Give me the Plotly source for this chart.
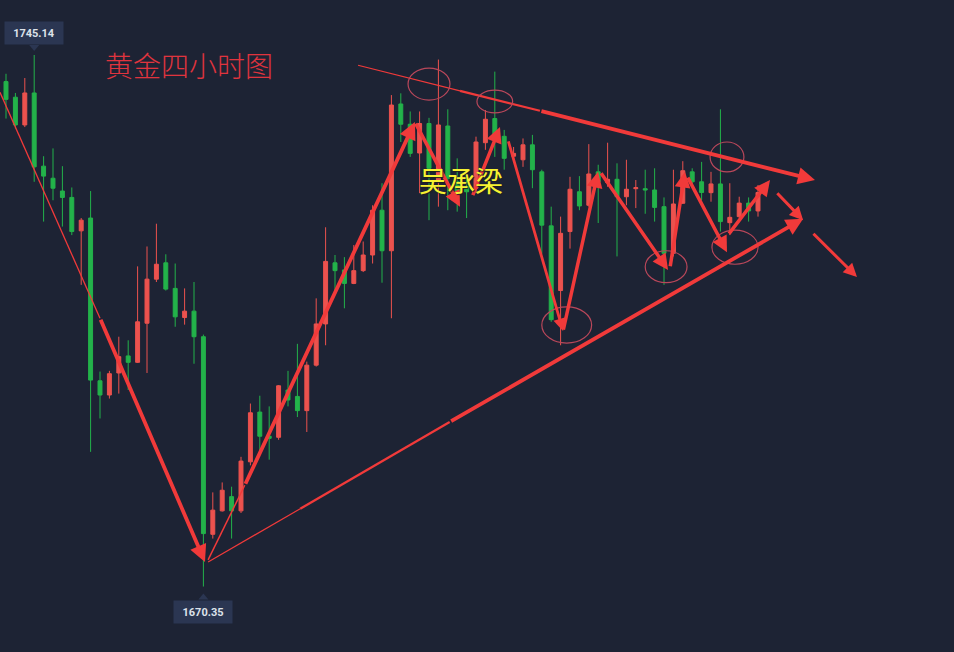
import plotly.graph_objects as go

# ---------------- data (4-hour gold candles) ----------------
bar_index = list(range(81))
open_ = [1741.4, 1739.2, 1735.3, 1739.8, 1729.5, 1727.8, 1726.0, 1725.1, 1720.4, 1722.2,
         1699.3, 1697.3, 1700.4, 1702.8, 1701.9, 1707.4, 1713.6, 1715.9, 1712.3, 1708.2,
         1709.1, 1705.5, 1677.7, 1681.0, 1683.0, 1681.0, 1687.9, 1694.9, 1691.5, 1691.35,
         1698.0, 1697.1, 1695.1, 1701.5, 1707.3, 1715.9, 1714.9, 1713.0, 1714.8, 1717.0,
         1723.3, 1717.6, 1738.25, 1735.4, 1731.35, 1735.5, 1727.55, 1735.15, 1727.3, 1726.6,
         1726.4, 1732.8, 1736.2, 1733.7, 1730.9, 1730.4, 1732.5, 1728.7, 1721.1, 1712.0,
         1720.3, 1725.9, 1724.0, 1728.7, 1727.2, 1727.65, 1725.2, 1726.33, 1726.33, 1726.15,
         1723.8, 1717.24, 1724.28, 1728.7, 1727.3, 1725.77, 1727.0, 1721.55, 1722.4, 1724.3,
         1723.2]
high = [1742.5, 1739.8, 1741.9, 1745.14, 1730.9, 1732.0, 1729.5, 1726.5, 1722.2, 1726.0,
        1700.6, 1700.7, 1705.5, 1705.0, 1715.4, 1718.2, 1721.4, 1717.1, 1715.8, 1712.3,
        1713.2, 1705.8, 1683.6, 1685.0, 1684.4, 1688.6, 1696.1, 1697.2, 1695.7, 1698.7,
        1700.7, 1704.5, 1702.0, 1710.9, 1720.9, 1717.0, 1716.7, 1718.4, 1718.9, 1724.0,
        1727.1, 1739.5, 1739.75, 1737.2, 1737.2, 1736.3, 1744.5, 1737.5, 1730.6, 1728.0,
        1733.65, 1737.4, 1742.8, 1734.6, 1732.2, 1733.4, 1733.9, 1729.0, 1723.8, 1722.4,
        1728.0, 1728.1, 1732.6, 1729.7, 1732.8, 1729.9, 1730.4, 1727.55, 1729.0, 1729.2,
        1725.1, 1729.0, 1730.2, 1729.2, 1730.1, 1728.7, 1737.5, 1727.1, 1725.2, 1725.1,
        1726.85]
low = [1736.2, 1734.8, 1735.0, 1727.3, 1721.7, 1724.7, 1721.0, 1719.8, 1712.8, 1689.3,
       1694.0, 1696.8, 1697.5, 1698.0, 1701.8, 1700.4, 1713.2, 1712.0, 1706.9, 1707.2,
       1701.7, 1670.35, 1677.1, 1680.9, 1677.1, 1680.7, 1687.4, 1688.9, 1688.2, 1691.0,
       1695.7, 1694.2, 1692.1, 1701.3, 1704.3, 1711.6, 1709.5, 1712.9, 1714.6, 1715.8,
       1713.1, 1708.1, 1732.9, 1730.8, 1725.7, 1721.9, 1723.8, 1723.3, 1723.1, 1722.2,
       1725.7, 1731.8, 1730.8, 1729.0, 1730.4, 1729.4, 1726.4, 1717.2, 1707.6, 1704.3,
       1717.9, 1723.3, 1723.8, 1721.5, 1726.6, 1716.8, 1724.0, 1723.6, 1722.8, 1721.7,
       1712.8, 1716.8, 1724.18, 1726.85, 1724.7, 1724.5, 1720.3, 1719.8, 1722.2, 1721.7,
       1722.4]
close = [1738.9, 1735.3, 1739.8, 1729.4, 1728.1, 1726.4, 1725.1, 1720.3, 1721.9, 1699.4,
         1697.3, 1700.3, 1702.7, 1701.9, 1707.6, 1713.6, 1715.7, 1712.2, 1708.3, 1709.1,
         1705.5, 1677.8, 1681.1, 1683.9, 1681.0, 1688.0, 1694.8, 1691.5, 1691.2, 1698.6,
         1696.6, 1695.1, 1701.5, 1707.3, 1716.1, 1714.8, 1713.0, 1714.8, 1717.0, 1723.3,
         1717.6, 1738.1, 1735.4, 1731.3, 1735.5, 1729.2, 1735.3, 1727.8, 1725.9, 1725.9,
         1732.9, 1736.1, 1733.65, 1730.6, 1731.3, 1732.5, 1729.0, 1721.2, 1707.9, 1720.05,
         1726.25, 1723.9, 1728.4, 1727.3, 1727.65, 1725.2, 1726.25, 1726.47, 1726.15, 1723.7,
         1717.24, 1724.18, 1728.86, 1727.3, 1725.8, 1727.0, 1721.7, 1722.3, 1724.3, 1723.2,
         1725.8]

high_label = "1745.14"
low_label = "1670.35"
title_text = "黄金四小时图"
author_text = "吴承梁"

# ---------------- hand-drawn annotation geometry (bar index, price) ----------------
plain_lines = [  # (x0, y0, x1, y1, width)
    (-0.64, 1739.9, 10.0, 1708.1, 1.3),
    (21.5, 1674.1, 25.4, 1684.6, 1.5),
    (37.45, 1743.7, 48.3, 1740.1, 1.2),
    (48.3, 1740.1, 56.8, 1737.3, 2.2),
    (21.5, 1673.8, 31.3, 1681.3, 1.2),
    (31.3, 1681.3, 47.2, 1693.5, 2.3),
]
thick_arrows = [  # (x_tail, y_tail, x_head, y_head, width)
    (10.0, 1708.1, 21.17, 1673.8, 3.8),
    (25.4, 1684.6, 43.5, 1735.7, 3.8),
    (56.8, 1737.3, 86.06, 1727.55, 3.8),
    (47.2, 1693.5, 84.8, 1722.1, 3.8),
    (43.5, 1735.7, 48.3, 1723.8, 3.5),
    (49.6, 1725.2, 52.55, 1735.0, 3.5),
    (53.4, 1733.2, 59.26, 1706.3, 2.8),
    (59.26, 1706.3, 62.98, 1728.7, 3.5),
    (63.2, 1728.7, 70.43, 1714.9, 3.5),
    (70.64, 1715.2, 72.23, 1728.7, 3.5),
    (72.45, 1728.1, 76.7, 1717.4, 3.5),
    (76.8, 1719.8, 81.28, 1727.55, 3.5),
    (81.9, 1725.9, 84.8, 1721.9, 3.0),
    (85.74, 1720.2, 90.53, 1713.9, 3.0),
]
ellipses = [  # (x0, x1, y0, y1)
    (42.77, 47.23, 1738.8, 1743.3),
    (50.1, 53.9, 1737.0, 1740.2),
    (57.0, 62.3, 1704.6, 1709.7),
    (68.0, 72.45, 1713.1, 1717.6),
    (74.9, 78.5, 1728.7, 1732.9),
    (75.1, 80.0, 1715.7, 1720.5),
]

BG = "#1d2334"
UP = "#ec524e"
DOWN = "#23b24a"
ARROW = "#f13a3a"
ELL = "#b9475a"
LABEL_BG = "#2b3652"

fig = go.Figure()
fig.add_trace(go.Candlestick(
    x=bar_index, open=open_, high=high, low=low, close=close,
    increasing=dict(line=dict(color=UP, width=1), fillcolor=UP),
    decreasing=dict(line=dict(color=DOWN, width=1), fillcolor=DOWN),
    whiskerwidth=0, showlegend=False, hoverinfo="skip",
))

shapes = []
for x0, y0, x1, y1, w in plain_lines:
    shapes.append(dict(type="line", xref="x", yref="y", x0=x0, y0=y0, x1=x1, y1=y1,
                       line=dict(color=ARROW, width=w)))
for x0, x1, y0, y1 in ellipses:
    shapes.append(dict(type="circle", xref="x", yref="y", x0=x0, x1=x1, y0=y0, y1=y1,
                       line=dict(color=ELL, width=1.2)))
# pointer triangles of the price tags
shapes.append(dict(type="path", xref="x", yref="y", xsizemode="pixel", ysizemode="pixel",
                   xanchor=3, yanchor=1745.14, path="M -5,10 L 5,10 L 0,4 Z",
                   fillcolor=LABEL_BG, line=dict(width=0)))
shapes.append(dict(type="path", xref="x", yref="y", xsizemode="pixel", ysizemode="pixel",
                   xanchor=21, yanchor=1670.35, path="M -5,-13 L 5,-13 L 0,-7 Z",
                   fillcolor=LABEL_BG, line=dict(width=0)))

annotations = []
for xt, yt, xh, yh, w in thick_arrows:
    annotations.append(dict(x=xh, y=yh, ax=xt, ay=yt, xref="x", yref="y", axref="x", ayref="y",
                            text="", showarrow=True, arrowhead=2, arrowsize=0.9,
                            arrowwidth=w, arrowcolor=ARROW, standoff=0, startstandoff=0))

tag_font = dict(family="Roboto, Arial", size=11, color="#dde2ea")
annotations.append(dict(x=3, y=1745.14, xref="x", yref="y", text="<b>" + high_label + "</b>",
                        showarrow=False, yanchor="bottom", yshift=10, bgcolor=LABEL_BG,
                        width=50, height=14, borderpad=4, font=tag_font))
annotations.append(dict(x=21, y=1670.35, xref="x", yref="y", text="<b>" + low_label + "</b>",
                        showarrow=False, yanchor="top", yshift=-13, bgcolor=LABEL_BG,
                        width=50, height=14, borderpad=4, font=tag_font))
annotations.append(dict(x=0.198, y=0.90, xref="paper", yref="paper", text=title_text,
                        showarrow=False, xanchor="center", yanchor="middle",
                        font=dict(family="Noto Sans CJK SC", size=28, color="#e0343e", weight=300)))
annotations.append(dict(x=0.483, y=0.724, xref="paper", yref="paper", text=author_text,
                        showarrow=False, xanchor="center", yanchor="middle",
                        font=dict(family="Noto Sans CJK SC", size=28, color="#f6f232",
                                  shadow="1px 1px 1px #202020")))

fig.update_layout(
    width=954, height=652, autosize=False,
    margin=dict(l=0, r=0, t=0, b=0, pad=0),
    paper_bgcolor=BG, plot_bgcolor=BG,
    boxgap=0.4,
    shapes=shapes, annotations=annotations,
    xaxis=dict(range=[-0.638, 100.85], visible=False, showgrid=False, zeroline=False,
               rangeslider=dict(visible=False), fixedrange=True),
    yaxis=dict(range=[1661.14, 1752.88], visible=False, showgrid=False, zeroline=False,
               fixedrange=True),
    showlegend=False,
)

fig.write_html(
    "out.html",
    config={"displayModeBar": False},
    post_script="document.body.style.margin='0';document.body.style.padding='0';"
                "document.body.style.background='" + BG + "';"
                "document.body.style.overflow='hidden';",
)
